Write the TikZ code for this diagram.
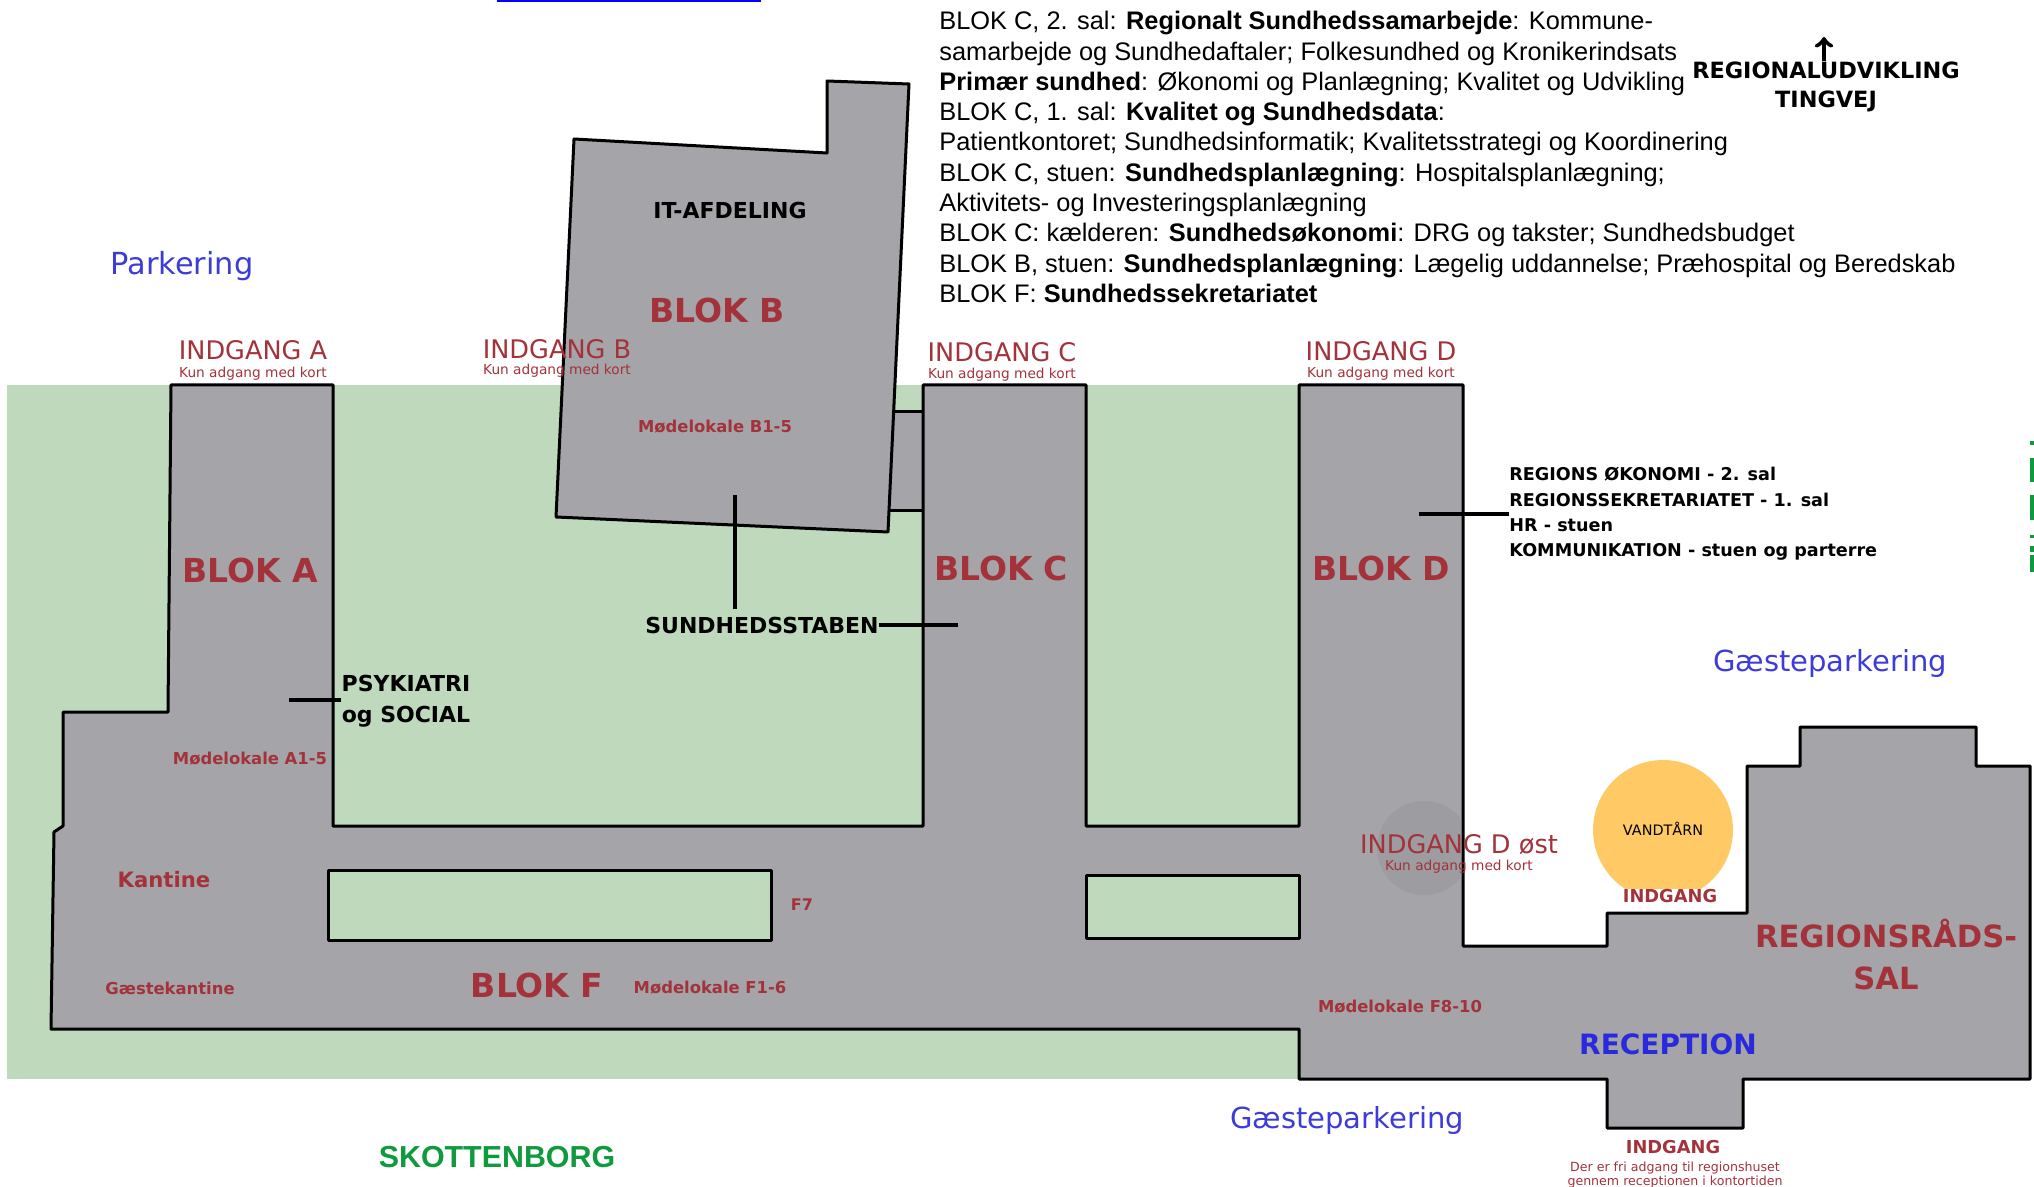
\documentclass[tikz,border=0pt]{standalone}
\usepackage{fontspec}
\usepackage{xcolor}
\setmainfont{Liberation Sans}
\newfontfamily\labelfont{DejaVu Sans}
\newcommand{\fs}[2]{\fontsize{#1}{#2}\selectfont}
\definecolor{plaene}{HTML}{BFD9BD}
\definecolor{bygning}{HTML}{A4A4A9}
\definecolor{skygge}{HTML}{9C9CA1}
\definecolor{blokrod}{HTML}{A3323A}
\definecolor{parkblaa}{HTML}{3C3CD8}
\definecolor{receptionblaa}{HTML}{2A2ADD}
\definecolor{vejgroen}{HTML}{0F9A3E}
\definecolor{taarn}{HTML}{FFC966}
\begin{document}
\begin{tikzpicture}[x=.5pt, y=-.5pt, line join=round,
    wall/.style={draw=black, line width=1.5pt},
    leader/.style={draw=black, line width=1.6pt},
    tekst/.style={inner sep=0pt},
    blok/.style={tekst, text=blokrod, font=\labelfont\bfseries\fs{16.5}{18}},
    lokale/.style={tekst, text=blokrod, font=\labelfont\bfseries\fs{8.2}{10}},
    indgang/.style={tekst, text=blokrod, font=\labelfont\fs{12.8}{14}},
    kort/.style={tekst, text=blokrod, font=\labelfont\fs{6.85}{8}},
    park/.style={tekst, text=parkblaa, font=\labelfont\fs{14.5}{16}},
    sort/.style={tekst, text=black, font=\labelfont\bfseries\fs{11}{15.5}}]
    \useasboundingbox (0,0) rectangle (2034,1187);
    \fill[blue] (497,0) rectangle (761,2);
    \foreach \a/\b in {441/445, 458/482, 495/520, 535/538, 546/552, 555/572}
        \fill[vejgroen] (2030,\a) rectangle (2034,\b);
    \fill[plaene] (7,385) rectangle (1299,1079);
    \fill[taarn] (1663,830) circle (70);
    \node[tekst, fill=white, text=blokrod, font=\labelfont\bfseries\fs{8.9}{10}] (indgangtaarn) at (1670,896) {INDGANG};
    \fill[bygning] (890,412) rectangle (923,510);
    \draw[wall] (890,412) -- (923,412) (890,510) -- (923,510);
    \draw[wall, fill=bygning] (171,385) -- (333,385) -- (333,826) -- (923,826) -- (923,385)
        -- (1086,385) -- (1086,826) -- (1299,826) -- (1299,385) -- (1463,385) -- (1463,946)
        -- (1607,946) -- (1607,913) -- (1747,913) -- (1747,766) -- (1800,766) -- (1800,727)
        -- (1976,727) -- (1976,766) -- (2030,766) -- (2030,1079) -- (1743,1079) -- (1743,1128)
        -- (1607,1128) -- (1607,1079) -- (1299,1079) -- (1299,1029) -- (51,1029) -- (54,832)
        -- (63,826) -- (63,712) -- (168,712) -- cycle;
    \begin{scope}
        \clip (1300,780) rectangle (1461,920);
        \fill[skygge] (1424,848) circle (47);
    \end{scope}
    \draw[wall, fill=bygning] (574,139) -- (827,153) -- (827,81) -- (909,84) -- (888,532) -- (556,517) -- cycle;
    \draw[wall, fill=plaene] (328,870) rectangle (771,940);
    \draw[wall, fill=plaene] (1086,875) rectangle (1299,938);

    \node[park, font=\labelfont\fs{15.2}{16}] (parkering) at (182,266) {Parkering};
    \node[park] (gaestehoejre) at (1830,663) {Gæsteparkering};
    \node[park] (gaestebund) at (1347,1120) {Gæsteparkering};

    \node[indgang] (indgangA) at (253,350) {INDGANG A};
    \node[kort] (kortA) at (253,374) {Kun adgang med kort};
    \node[indgang] (indgangB) at (557,349) {INDGANG B};
    \node[kort] (kortB) at (557,371) {Kun adgang med kort};
    \node[indgang] (indgangC) at (1002,352) {INDGANG C};
    \node[kort] (kortC) at (1002,375) {Kun adgang med kort};
    \node[indgang] (indgangD) at (1381,351) {INDGANG D};
    \node[kort] (kortD) at (1381,374) {Kun adgang med kort};
    \node[indgang] (indgangDost) at (1459,845) {INDGANG D øst};
    \node[kort] (kortDost) at (1459,867) {Kun adgang med kort};

    \node[blok] (blokA) at (250,570) {BLOK\,\,A};
    \node[blok] (blokB) at (717,310) {BLOK\,\,B};
    \node[blok] (blokC) at (1001,568) {BLOK\,\,C};
    \node[blok] (blokD) at (1381,568) {BLOK\,\,D};
    \node[blok] (blokF) at (537,985) {BLOK\,\,F};

    \node[lokale] (lokaleA) at (250,759) {Mødelokale A1-5};
    \node[lokale] (lokaleB) at (715,427) {Mødelokale B1-5};
    \node[lokale] (lokaleF) at (710,988) {Mødelokale F1-6};
    \node[lokale] (lokaleFotte) at (1400,1007) {Mødelokale F8-10};
    \node[lokale] (gaestekantine) at (170,988) {Gæstekantine};
    \node[lokale, font=\labelfont\bfseries\fs{10.6}{12}] (kantine) at (164,880) {Kantine};
    \node[lokale, font=\labelfont\bfseries\fs{8}{10}] (efsyv) at (802,905) {F7};

    \node[sort] (itafd) at (730,210) {IT-AFDELING};
    \node[sort] (staben) at (762,625) {SUNDHEDSSTABEN};
    \node[sort, align=center] (psyk) at (406,701) {PSYKIATRI\\og SOCIAL};
    \node[sort, align=left, anchor=west, font=\labelfont\bfseries\fs{8.8}{12.7}] (regioner) at (1509,514) {REGIONS ØKONOMI - 2. sal\\REGIONSSEKRETARIATET - 1. sal\\HR - stuen\\KOMMUNIKATION - stuen og parterre};
    \node[sort, align=center, font=\labelfont\bfseries\fs{11.2}{14.9}] (regudv) at (1826,87) {REGIONALUDVIKLING\\TINGVEJ};

    \coordinate (stabop) at (735,495);
    \coordinate (stabhojre) at (958,625);
    \coordinate (psykvenstre) at (289,700);
    \coordinate (regionvenstre) at (1419,514);
    \coordinate (nord) at (1824,37);
    \draw[leader] ([yshift=3.5pt]staben.north -| stabop) -- (stabop);
    \draw[leader] (staben.east) -- (stabhojre);
    \draw[leader] (psyk.west |- psykvenstre) -- (psykvenstre);
    \draw[leader] (regioner.west) -- (regionvenstre);
    \draw[leader, line width=2.2pt, ->] (regudv.north -| nord) -- (nord);

    \node[tekst, font=\labelfont\fs{7.2}{9}] (vandtaarn) at (1663,829) {VANDTÅRN};
    \node[tekst, text=blokrod, align=center, font=\labelfont\bfseries\fs{15.3}{21}] (raadssal) at (1886,955) {REGIONSRÅDS-\\SAL};
    \node[tekst, text=receptionblaa, font=\labelfont\bfseries\fs{14}{16}] (reception) at (1668,1044) {RECEPTION};
    \node[tekst, text=blokrod, font=\labelfont\bfseries\fs{8.9}{10}] (indgangbund) at (1673,1147) {INDGANG};
    \node[kort, align=center, font=\labelfont\fs{6.3}{7.2}] (fri) at (1675,1175) {Der er fri adgang til regionshuset\\gennem receptionen i kontortiden};
    \node[tekst, text=vejgroen, font=\bfseries\fs{15.2}{17}] (skottenborg) at (497,1157) {SKOTTENBORG};

    \node[tekst, anchor=north west, align=left, font=\fs{12.69}{15.15}] (afdelinger) at (939,11) {BLOK C, 2. sal: \textbf{Regionalt Sundhedssamarbejde}: Kommune-\\samarbejde og Sundhedaftaler; Folkesundhed og Kronikerindsats\\\textbf{Primær sundhed}: Økonomi og Planlægning; Kvalitet og Udvikling\\BLOK C, 1. sal: \textbf{Kvalitet og Sundhedsdata}:\\Patientkontoret; Sundhedsinformatik; Kvalitetsstrategi og Koordinering\\BLOK C, stuen: \textbf{Sundhedsplanlægning}: Hospitalsplanlægning;\\Aktivitets- og Investeringsplanlægning\\BLOK C: kælderen: \textbf{Sundhedsøkonomi}: DRG og takster; Sundhedsbudget\\BLOK B, stuen: \textbf{Sundhedsplanlægning}: Lægelig uddannelse; Præhospital og Beredskab\\BLOK F: \textbf{Sundhedssekretariatet}};
\end{tikzpicture}
\end{document}
